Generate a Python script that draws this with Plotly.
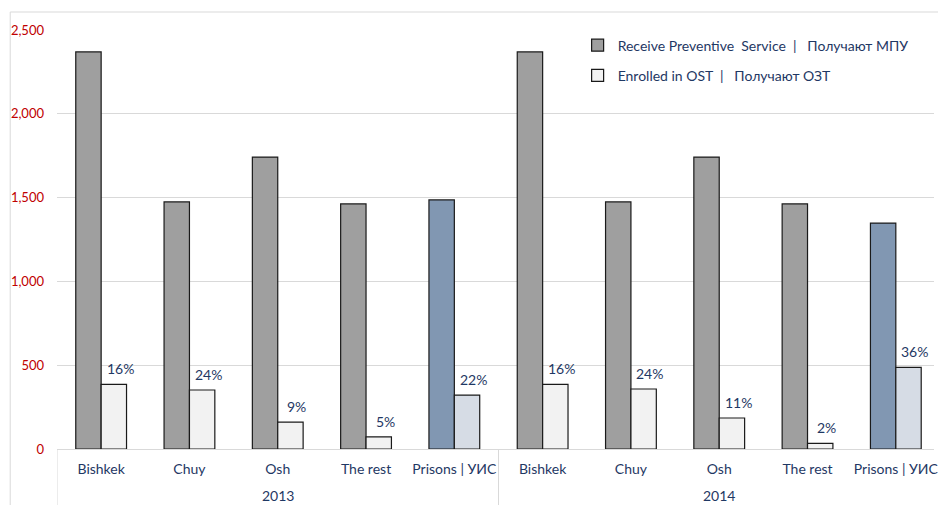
import plotly.graph_objects as go

# Categories: year groups and regions
years = ["2013"] * 5 + ["2014"] * 5
regions = ["Bishkek", "Chuy", "Osh", "The rest", "Prisons | УИС"] * 2
year_groups = ["2013", "2014"]

# Clients receiving preventive services (МПУ)
preventive = [2369, 1474, 1742, 1462, 1486, 2369, 1474, 1742, 1462, 1348]
# Clients enrolled in opioid substitution therapy (ОЗТ)
ost = [385, 352, 160, 72, 322, 385, 358, 185, 33, 487]

y_ticks = [0, 500, 1000, 1500, 2000, 2500]

NAVY = "#1f3864"
GRID = "#d9d9d9"
FONT = "Lato, Calibri, 'Noto Sans', sans-serif"
nb = "\u00a0"

# one unique key per bar pair, region names shown as tick text
keys = [f"{y}|{r}" for y, r in zip(years, regions)]

prev_colors = ["#8197b2" if r.startswith("Prisons") else "#9f9f9f" for r in regions]
ost_colors = ["#d6dce5" if r.startswith("Prisons") else "#f2f2f2" for r in regions]
share = [f"{round(o / p * 100)}%" for o, p in zip(ost, preventive)]

fig = go.Figure()
fig.add_trace(go.Bar(
    x=keys, y=preventive,
    name=f"Receive Preventive{nb} Service{nb} |{nb}{nb} Получают МПУ",
    marker=dict(color=prev_colors, line=dict(color="#1a1a1a", width=1.2)),
    legendgroup="a",
))
fig.add_trace(go.Bar(
    x=keys, y=ost,
    name=f"Enrolled in OST{nb} |{nb}{nb} Получают ОЗТ",
    marker=dict(color=ost_colors, line=dict(color="#1a1a1a", width=1.2)),
    legendgroup="b",
))

annotations = []
# share of OST clients above each OST bar
for k, v, s in zip(keys, ost, share):
    annotations.append(dict(
        x=k, y=v, xref="x", yref="y", text=s, showarrow=False,
        xanchor="center", yanchor="bottom", xshift=19, yshift=5,
        font=dict(size=14, color=NAVY, family=FONT),
    ))
# year labels under the middle category of each group
for g in year_groups:
    members = [k for k, y in zip(keys, years) if y == g]
    annotations.append(dict(
        x=members[len(members) // 2], y=-0.112, xref="x", yref="paper",
        text=g, showarrow=False, xanchor="center", yanchor="middle",
        font=dict(size=14, color=NAVY, family=FONT),
    ))

# group dividers below the axis
n = len(keys)
bounds = [-0.5] + [i - 0.5 for i in range(1, n) if years[i] != years[i - 1]] + [n - 0.5]
shapes = [dict(type="line", xref="x", yref="paper", x0=b, x1=b, y0=0, y1=-0.14,
               line=dict(color=GRID, width=1)) for b in bounds]
# chart frame
shapes.append(dict(
    type="rect", xref="paper", yref="paper",
    x0=(10 - 57) / 881, x1=1.2, y0=-0.5, y1=(505 - 12 - 56) / 419,
    line=dict(color=GRID, width=1), fillcolor="rgba(0,0,0,0)", layer="below",
))

right_cut = 6 / 88.7
fig.update_layout(
    width=938, height=505,
    margin=dict(l=57, r=0, t=30, b=56),
    paper_bgcolor="white", plot_bgcolor="white",
    barmode="group", bargap=0.425, bargroupgap=0,
    font=dict(family=FONT, color=NAVY, size=14),
    showlegend=True,
    legend=dict(
        x=(580 - 57) / 881, y=1.001, xanchor="left", yanchor="top",
        bgcolor="rgba(0,0,0,0)", font=dict(size=14, color=NAVY, family=FONT),
        tracegroupgap=9, traceorder="grouped", itemwidth=30,
    ),
    xaxis=dict(
        type="category",
        range=[-0.5, n - 0.5 - right_cut],
        tickvals=keys, ticktext=regions,
        showline=True, linecolor=GRID, linewidth=1,
        ticks="", tickfont=dict(size=14, color=NAVY, family=FONT),
        ticklabelstandoff=7, showgrid=False,
    ),
    yaxis=dict(
        range=[0, 2500], tickvals=y_ticks,
        tickformat=",d",
        tickfont=dict(size=13, color="#c00000", family=FONT),
        showgrid=True, gridcolor=GRID, gridwidth=1,
        zeroline=False, showline=False, ticklabelstandoff=12,
    ),
    annotations=annotations,
    shapes=shapes,
)

fig.write_html("out.html")
